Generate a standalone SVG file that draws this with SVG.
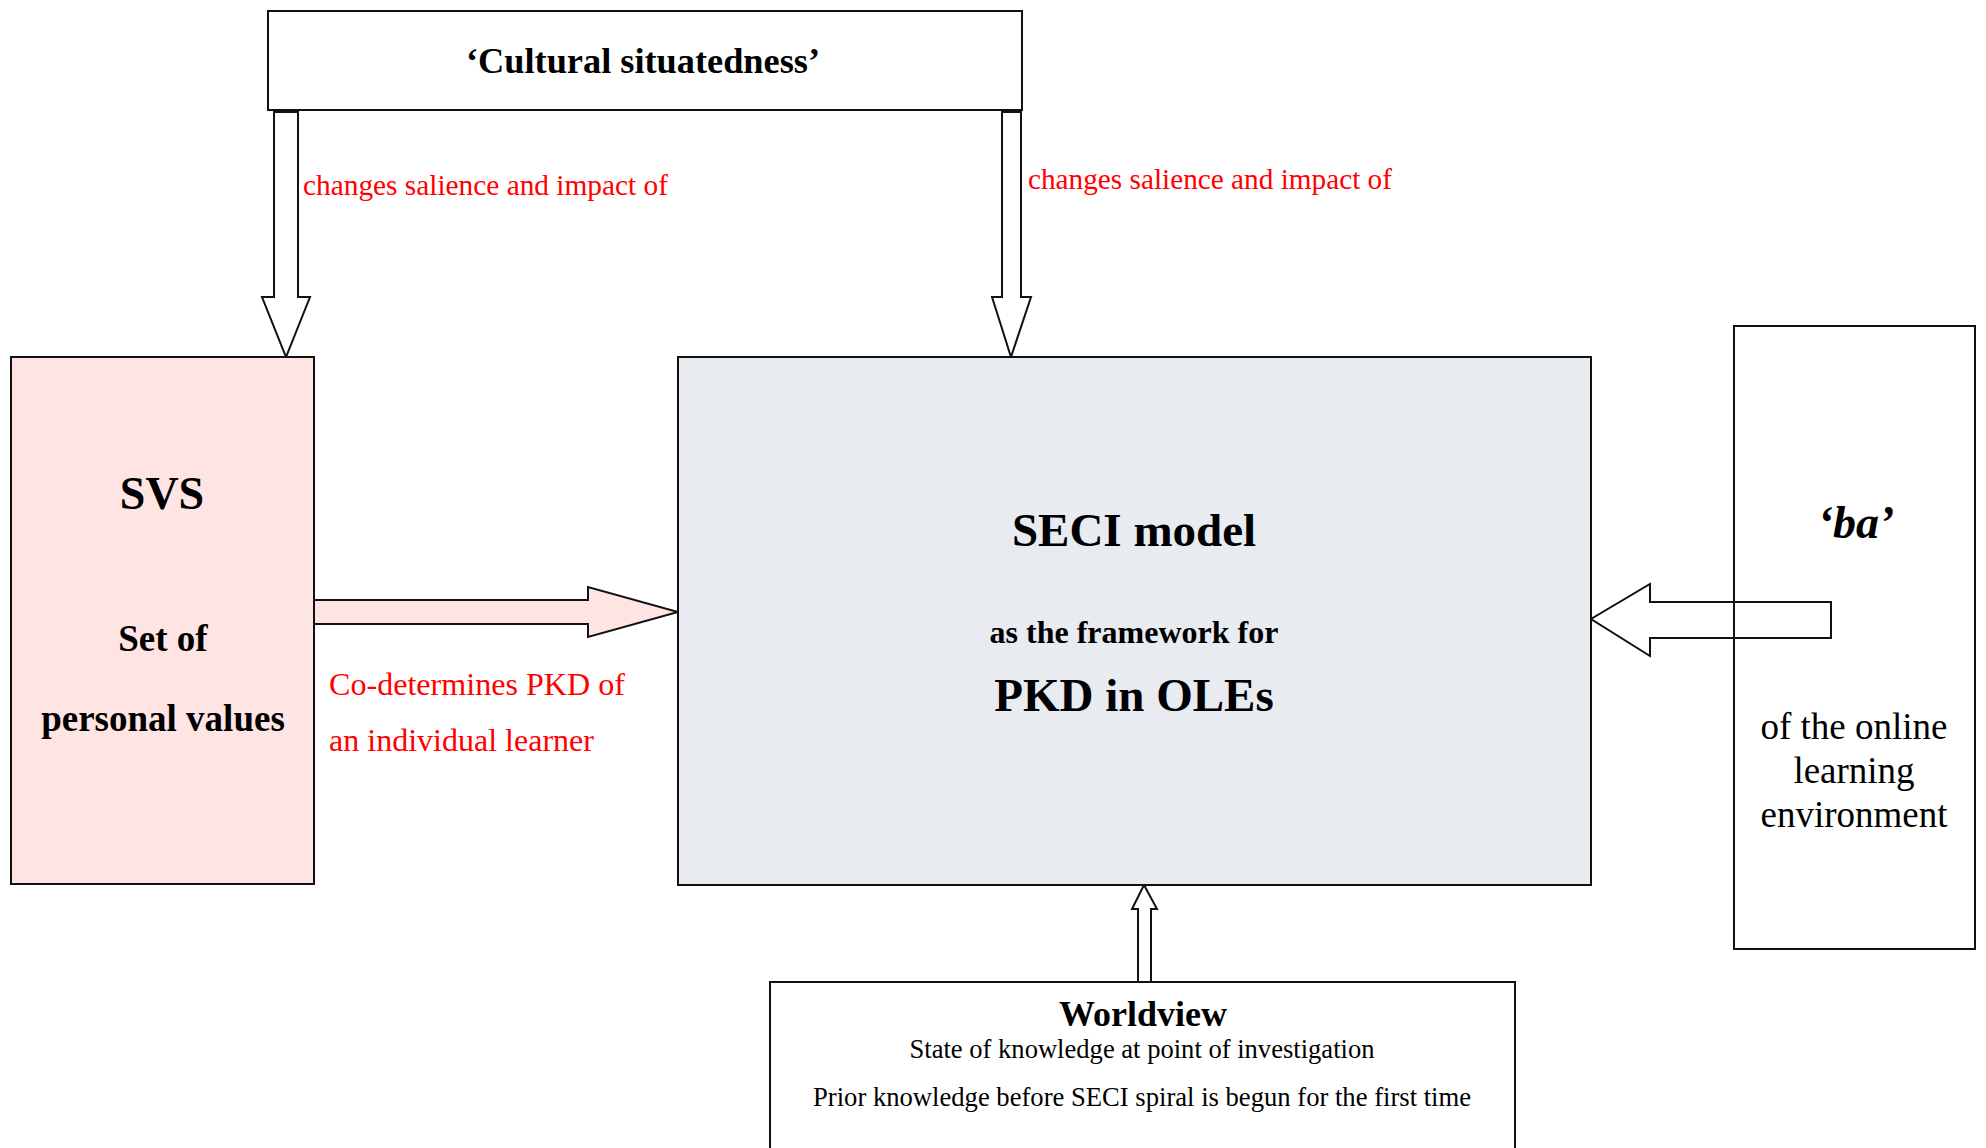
<svg xmlns="http://www.w3.org/2000/svg" width="1986" height="1148" viewBox="0 0 1986 1148">
  <style>
    .box { stroke: #111; stroke-width: 2; }
    .arrow { fill: #fff; stroke: #111; stroke-width: 2; stroke-linejoin: miter; }
    .t { font-family: "Liberation Serif", "Times New Roman", serif; fill: #000; text-anchor: middle; }
    .b { font-weight: bold; }
    .red { font-family: "Liberation Serif", "Times New Roman", serif; fill: #ff0000; }
  </style>
  <rect width="1986" height="1148" fill="#fff"/>

  <!-- connectors: block arrows -->
  <g id="connectors">
    <!-- cultural situatedness -> SVS -->
    <path class="arrow" d="M274,112 H298 V297 H310 L286,357 L262,297 H274 Z"/>
    <!-- cultural situatedness -> SECI -->
    <path class="arrow" d="M1002,112 H1021 V297 H1031 L1011,357 L992,297 H1002 Z"/>
    <!-- SVS -> SECI -->
    <path class="arrow" d="M314,600 H588 V587 L678,612 L588,637 V624 H314 Z" style="fill:#ffe4e4"/>
    <!-- ba -> SECI -->
    <path class="arrow" d="M1831,602 V638 H1650 V656 L1591,619 L1650,584 V602 Z" style="fill:none"/>
    <!-- Worldview -> SECI -->
    <path class="arrow" d="M1138,982 V909 H1132 L1144,885 L1157,909 H1151 V982 Z"/>
  </g>

  <!-- connector labels -->
  <g id="labels">
    <text class="red" x="303" y="195" font-size="30" textLength="365" lengthAdjust="spacingAndGlyphs">changes salience and impact of</text>
    <text class="red" x="1028" y="189" font-size="30" textLength="364" lengthAdjust="spacingAndGlyphs">changes salience and impact of</text>
    <text class="red" x="329" y="695" font-size="32" textLength="296" lengthAdjust="spacingAndGlyphs">Co-determines PKD of</text>
    <text class="red" x="329" y="751" font-size="32" textLength="265" lengthAdjust="spacingAndGlyphs">an individual learner</text>
  </g>

  <g id="node-culture">
    <rect class="box" x="268" y="11" width="754" height="99" fill="#fff"/>
    <text class="t b" x="643" y="73" font-size="36" textLength="354" lengthAdjust="spacingAndGlyphs">‘Cultural situatedness’</text>
  </g>

  <g id="node-svs">
    <rect class="box" x="11" y="357" width="303" height="527" fill="#ffe4e4"/>
    <text class="t b" x="162" y="509" font-size="46">SVS</text>
    <text class="t b" x="163" y="651" font-size="37">Set of</text>
    <text class="t b" x="163" y="731" font-size="37">personal values</text>
  </g>

  <g id="node-seci">
    <rect class="box" x="678" y="357" width="913" height="528" fill="#e8ebf0"/>
    <text class="t b" x="1134" y="546" font-size="47">SECI model</text>
    <text class="t b" x="1134" y="643" font-size="32">as the framework for</text>
    <text class="t b" x="1134" y="711" font-size="47">PKD in OLEs</text>
  </g>

  <g id="node-ba">
    <rect class="box" x="1734" y="326" width="241" height="623" fill="none"/>
    <text class="t b" x="1856" y="538" font-size="46" font-style="italic">‘ba’</text>
    <text class="t" x="1854" y="739" font-size="37">of the online</text>
    <text class="t" x="1854" y="783" font-size="37">learning</text>
    <text class="t" x="1854" y="827" font-size="37">environment</text>
  </g>

  <g id="node-worldview">
    <rect class="box" x="770" y="982" width="745" height="180" fill="#fff"/>
    <text class="t b" x="1143" y="1026" font-size="36">Worldview</text>
    <text class="t" x="1142" y="1058" font-size="26.5" textLength="465" lengthAdjust="spacingAndGlyphs">State of knowledge at point of investigation</text>
    <text class="t" x="1142" y="1106" font-size="26.5" textLength="658" lengthAdjust="spacingAndGlyphs">Prior knowledge before SECI spiral is begun for the first time</text>
  </g>
</svg>
